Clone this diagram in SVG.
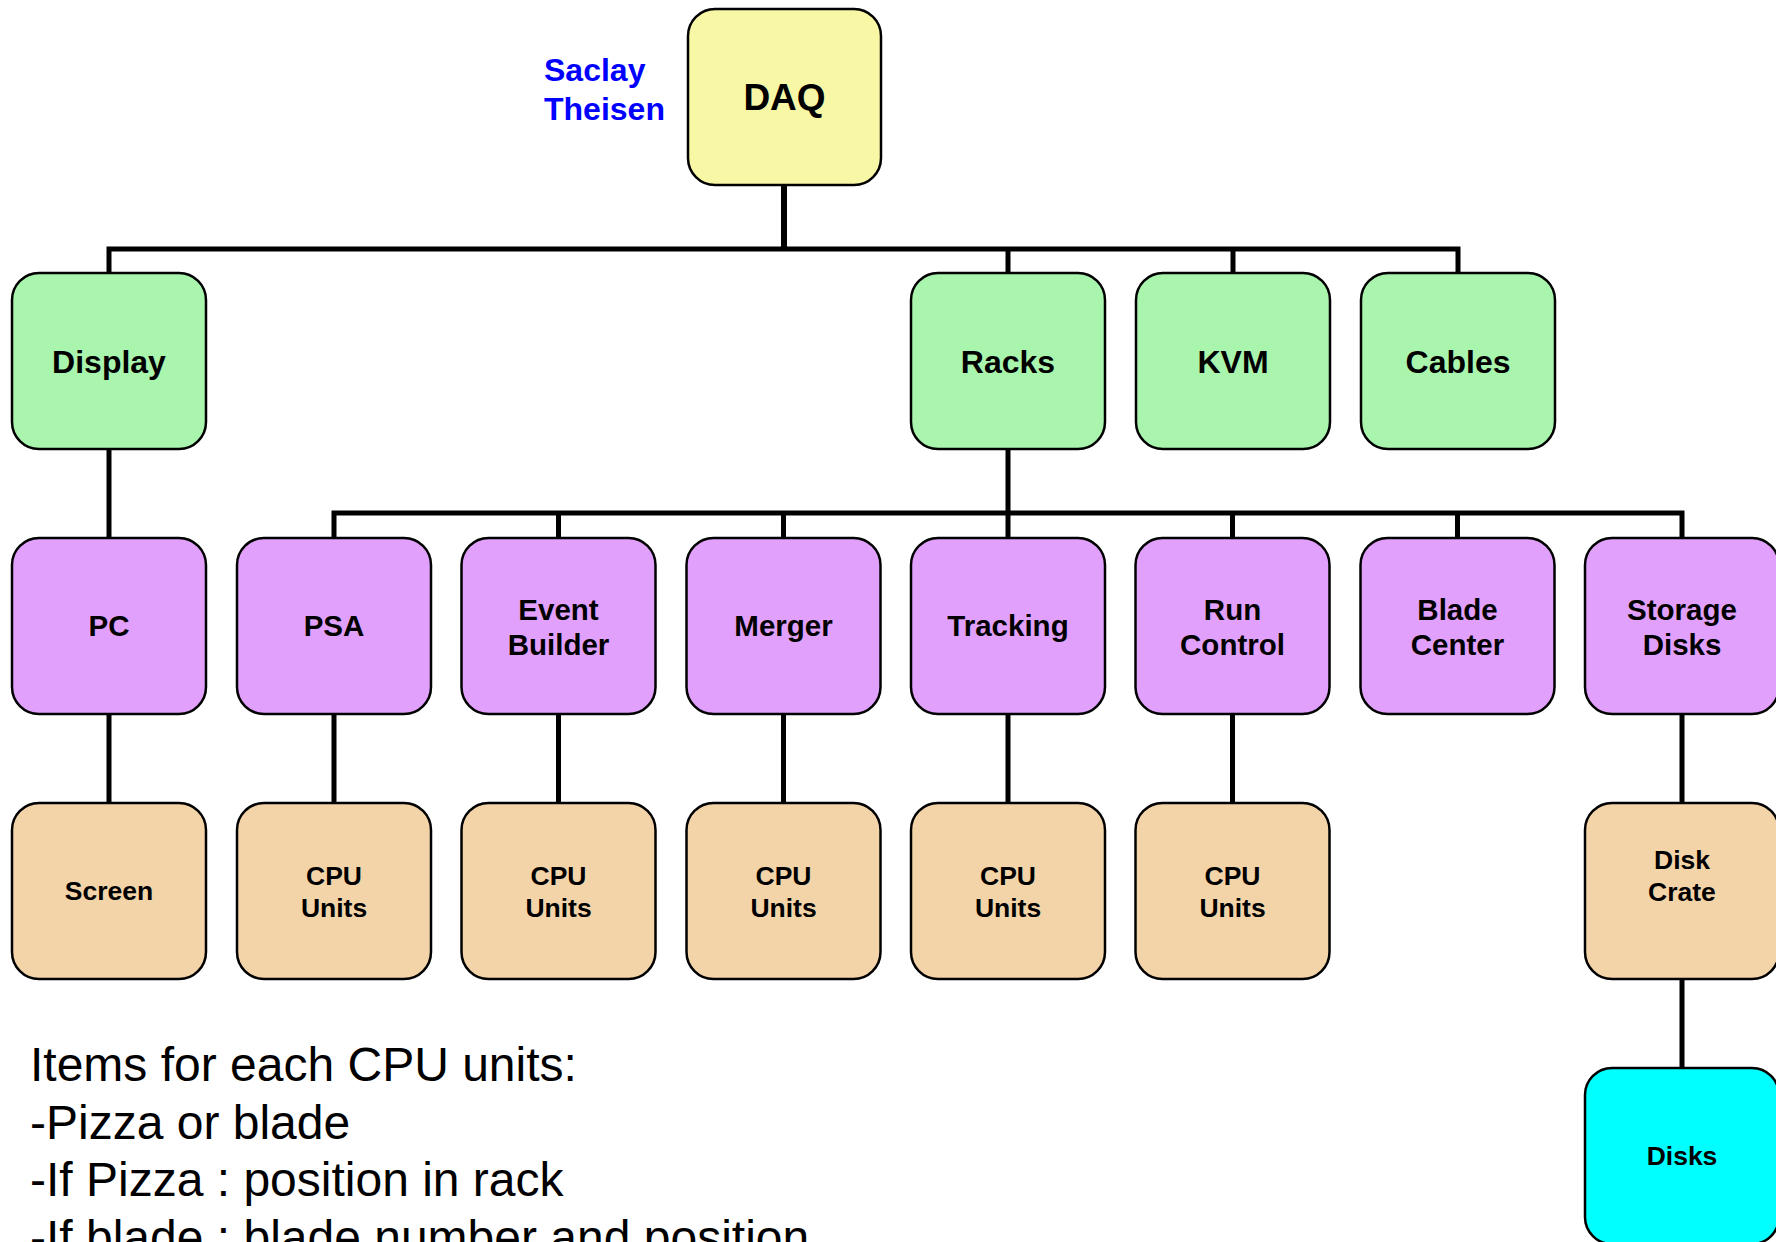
<svg xmlns="http://www.w3.org/2000/svg" width="1776" height="1242" viewBox="0 0 1776 1242">
<style>
text{font-family:"Liberation Sans",Arial,sans-serif;font-weight:bold;fill:#000;text-anchor:middle}
.box{stroke:#000;stroke-width:2.5}
.daq{fill:#F7F7A6}
.g{fill:#A9F5AE}
.p{fill:#E1A0FB}
.t{fill:#F3D4A8}
.c{fill:#00FFFF}
.l2{font-size:32px}
.l3{font-size:29.5px}
.l4{font-size:26.5px}
.conn{fill:none;stroke:#000;stroke-width:5;stroke-linejoin:miter;stroke-linecap:butt}
.note{font-family:"Liberation Sans",Arial,sans-serif;font-weight:normal;font-size:48px;text-anchor:start}
.author{fill:#0000FF;font-size:32px;text-anchor:start}
</style>
<rect width="1776" height="1242" fill="#fff"/>
<g id="connectors">
<path class="conn" style="stroke-width:6" d="M784 185V249"/>
<path class="conn" d="M109 273V249H1458V273M1008 249V273M1233 249V273"/>
<path class="conn" d="M109 449V538"/>
<path class="conn" d="M1008 449V538M334 538V513H1682V538M558.5 513V538M783.5 513V538M1232.5 513V538M1457.5 513V538"/>
<path class="conn" d="M109 714V803M334 714V803M558.5 714V803M783.5 714V803M1008 714V803M1232.5 714V803M1682 714V803M1682 979V1068"/>
</g>
<g id="authors">
<text class="author" x="544" y="81">Saclay</text>
<text class="author" x="544" y="120">Theisen</text>
</g>
<g id="daq"><rect class="box daq" x="688" y="9" width="193" height="176" rx="27"/><text x="784.5" y="110" style="font-size:37px">DAQ</text></g>
<g id="display"><rect class="box g" x="12" y="273" width="194" height="176" rx="27"/><text class="l2" x="109" y="373">Display</text></g>
<g id="racks"><rect class="box g" x="911" y="273" width="194" height="176" rx="27"/><text class="l2" x="1008" y="373">Racks</text></g>
<g id="kvm"><rect class="box g" x="1136" y="273" width="194" height="176" rx="27"/><text class="l2" x="1233" y="373">KVM</text></g>
<g id="cables"><rect class="box g" x="1361" y="273" width="194" height="176" rx="27"/><text class="l2" x="1458" y="373">Cables</text></g>
<g id="pc"><rect class="box p" x="12" y="538" width="194" height="176" rx="27"/><text class="l3" x="109" y="636">PC</text></g>
<g id="psa"><rect class="box p" x="237" y="538" width="194" height="176" rx="27"/><text class="l3" x="334" y="636">PSA</text></g>
<g id="eventbuilder"><rect class="box p" x="461.5" y="538" width="194" height="176" rx="27"/><text class="l3" x="558.5" y="620">Event</text><text class="l3" x="558.5" y="655">Builder</text></g>
<g id="merger"><rect class="box p" x="686.5" y="538" width="194" height="176" rx="27"/><text class="l3" x="783.5" y="636">Merger</text></g>
<g id="tracking"><rect class="box p" x="911" y="538" width="194" height="176" rx="27"/><text class="l3" x="1008" y="636">Tracking</text></g>
<g id="runcontrol"><rect class="box p" x="1135.5" y="538" width="194" height="176" rx="27"/><text class="l3" x="1232.5" y="620">Run</text><text class="l3" x="1232.5" y="655">Control</text></g>
<g id="bladecenter"><rect class="box p" x="1360.5" y="538" width="194" height="176" rx="27"/><text class="l3" x="1457.5" y="620">Blade</text><text class="l3" x="1457.5" y="655">Center</text></g>
<g id="storagedisks"><rect class="box p" x="1585" y="538" width="194" height="176" rx="27"/><text class="l3" x="1682" y="620">Storage</text><text class="l3" x="1682" y="655">Disks</text></g>
<g id="screen"><rect class="box t" x="12" y="803" width="194" height="176" rx="27"/><text class="l4" x="109" y="900">Screen</text></g>
<g id="cpu1"><rect class="box t" x="237" y="803" width="194" height="176" rx="27"/><text class="l4" x="334" y="885">CPU</text><text class="l4" x="334" y="917">Units</text></g>
<g id="cpu2"><rect class="box t" x="461.5" y="803" width="194" height="176" rx="27"/><text class="l4" x="558.5" y="885">CPU</text><text class="l4" x="558.5" y="917">Units</text></g>
<g id="cpu3"><rect class="box t" x="686.5" y="803" width="194" height="176" rx="27"/><text class="l4" x="783.5" y="885">CPU</text><text class="l4" x="783.5" y="917">Units</text></g>
<g id="cpu4"><rect class="box t" x="911" y="803" width="194" height="176" rx="27"/><text class="l4" x="1008" y="885">CPU</text><text class="l4" x="1008" y="917">Units</text></g>
<g id="cpu5"><rect class="box t" x="1135.5" y="803" width="194" height="176" rx="27"/><text class="l4" x="1232.5" y="885">CPU</text><text class="l4" x="1232.5" y="917">Units</text></g>
<g id="diskcrate"><rect class="box t" x="1585" y="803" width="194" height="176" rx="27"/><text class="l4" x="1682" y="869">Disk</text><text class="l4" x="1682" y="901">Crate</text></g>
<g id="disks"><rect class="box c" x="1585" y="1068" width="194" height="176" rx="27"/><text class="l4" x="1682" y="1165">Disks</text></g>
<g id="notes">
<text class="note" x="30" y="1081">Items for each CPU units:</text>
<text class="note" x="30" y="1138.5">-Pizza or blade</text>
<text class="note" x="30" y="1196">-If Pizza : position in rack</text>
<text class="note" x="30" y="1253.5">-If blade : blade number and position</text>
</g>
</svg>
